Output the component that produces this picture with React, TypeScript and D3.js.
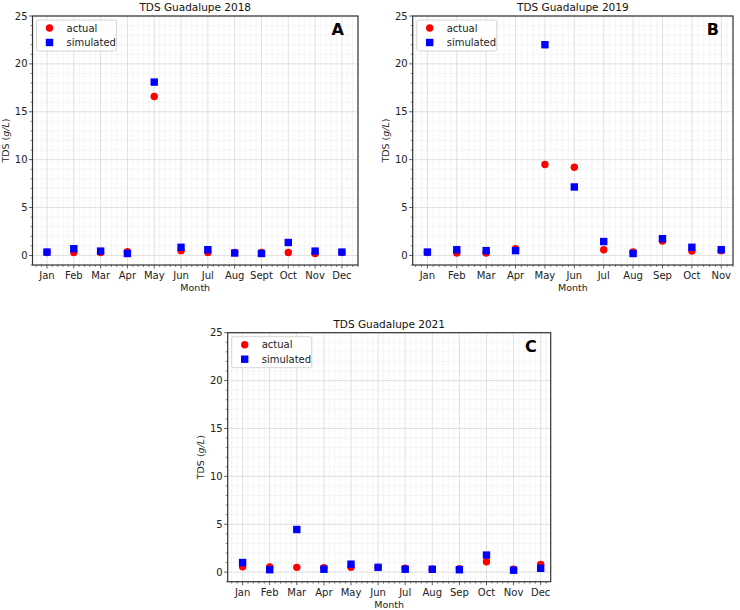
import React from 'react';
import * as d3 from 'd3';

// month labels for each panel
const months2018 = ['Jan', 'Feb', 'Mar', 'Apr', 'May', 'Jun', 'Jul', 'Aug', 'Sept', 'Oct', 'Nov', 'Dec'];
const months2019 = ['Jan', 'Feb', 'Mar', 'Apr', 'May', 'Jun', 'Jul', 'Aug', 'Sep', 'Oct', 'Nov'];
const months2021 = ['Jan', 'Feb', 'Mar', 'Apr', 'May', 'Jun', 'Jul', 'Aug', 'Sep', 'Oct', 'Nov', 'Dec'];

// TDS (g/L) values
const actual2018 = [0.3, 0.3, 0.3, 0.4, 16.6, 0.5, 0.3, 0.3, 0.3, 0.3, 0.2, 0.3];
const simulated2018 = [0.35, 0.7, 0.45, 0.2, 18.1, 0.85, 0.6, 0.25, 0.2, 1.35, 0.45, 0.35];

const actual2019 = [0.3, 0.25, 0.25, 0.7, 9.5, 9.2, 0.6, 0.35, 1.5, 0.45, 0.5];
const simulated2019 = [0.35, 0.6, 0.5, 0.5, 22.0, 7.15, 1.45, 0.2, 1.75, 0.85, 0.6];

const actual2021 = [0.55, 0.55, 0.5, 0.45, 0.5, 0.5, 0.4, 0.3, 0.35, 1.08, 0.3, 0.8];
const simulated2021 = [1.0, 0.25, 4.45, 0.3, 0.83, 0.5, 0.3, 0.3, 0.25, 1.78, 0.2, 0.4];

const yTicks = [0, 5, 10, 15, 20, 25];

const FONT = '"DejaVu Sans", sans-serif';

type PanelProps = {
  left: number;
  top: number;
  right: number;
  bottom: number;
  xDomain: [number, number];
  months: string[];
  actual: number[];
  simulated: number[];
  title: string;
  letter: string;
};

const Panel = ({ left, top, right, bottom, xDomain, months, actual, simulated, title, letter }: PanelProps) => {
  const x = d3.scaleLinear().domain(xDomain).range([left, right]);
  const y = d3.scaleLinear().domain([-1, 25]).range([bottom, top]);

  // minor ticks: 5 divisions per month, 1 unit on y
  const xMinor: number[] = [];
  for (let v = Math.ceil(xDomain[0] * 5) / 5; v <= xDomain[1]; v += 0.2) {
    const r = Math.round(v * 5) / 5;
    if (Math.abs(r - Math.round(r)) > 0.01) xMinor.push(r);
  }
  const yMinor = d3.range(-1, 26).filter(v => v % 5 !== 0);

  const lg = { x: left + 4, y: top + 4, w: 80, h: 31 };

  return (
    <g fontFamily={FONT}>
      {/* minor grid */}
      {xMinor.map((v, i) => (
        <line key={'xm' + i} x1={x(v)} x2={x(v)} y1={top} y2={bottom} stroke="#efefef" strokeWidth={0.6} />
      ))}
      {yMinor.map((v, i) => (
        <line key={'ym' + i} x1={left} x2={right} y1={y(v)} y2={y(v)} stroke="#efefef" strokeWidth={0.6} />
      ))}
      {/* major grid */}
      {months.map((m, i) => (
        <line key={'xg' + i} x1={x(i)} x2={x(i)} y1={top} y2={bottom} stroke="#dcdcdc" strokeWidth={0.9} />
      ))}
      {yTicks.map(v => (
        <line key={'yg' + v} x1={left} x2={right} y1={y(v)} y2={y(v)} stroke="#dcdcdc" strokeWidth={0.9} />
      ))}

      {/* actual (red circles) */}
      {actual.map((v, i) => (
        <circle key={'a' + i} cx={x(i)} cy={y(v)} r={3.7} fill="#ff0000" />
      ))}
      {/* simulated (blue squares) */}
      {simulated.map((v, i) => (
        <rect key={'s' + i} x={x(i) - 3.7} y={y(v) - 3.7} width={7.4} height={7.4} fill="#0000ff" />
      ))}

      {/* frame */}
      <rect x={left} y={top} width={right - left} height={bottom - top} fill="none" stroke="#333" strokeWidth={1.2} />

      {/* ticks */}
      {months.map((m, i) => (
        <g key={'xt' + i}>
          <line x1={x(i)} x2={x(i)} y1={bottom} y2={bottom + 3.5} stroke="#333" strokeWidth={0.8} />
          <text x={x(i)} y={bottom + 14} textAnchor="middle" fontSize={10} fill="#222">{m}</text>
        </g>
      ))}
      {xMinor.map((v, i) => (
        <line key={'xmt' + i} x1={x(v)} x2={x(v)} y1={bottom} y2={bottom + 2} stroke="#333" strokeWidth={0.6} />
      ))}
      {yTicks.map(v => (
        <g key={'yt' + v}>
          <line x1={left - 3.5} x2={left} y1={y(v)} y2={y(v)} stroke="#333" strokeWidth={0.8} />
          <text x={left - 5} y={y(v)} dy="0.35em" textAnchor="end" fontSize={10} fill="#222">{v}</text>
        </g>
      ))}
      {yMinor.map(v => (
        <line key={'ymt' + v} x1={left - 2} x2={left} y1={y(v)} y2={y(v)} stroke="#333" strokeWidth={0.6} />
      ))}

      {/* labels */}
      <text x={(left + right) / 2} y={top - 5} textAnchor="middle" fontSize={10.5} fill="#111">{title}</text>
      <text x={(left + right) / 2} y={bottom + 26} textAnchor="middle" fontSize={9.5} fill="#222">Month</text>
      <text
        transform={`translate(${left - 24}, ${(top + bottom) / 2}) rotate(-90)`}
        textAnchor="middle"
        fontSize={9.5}
        fill="#222"
      >
        TDS (<tspan fontStyle="italic">g/L</tspan>)
      </text>
      <text x={right - 14} y={top + 19} textAnchor="end" fontSize={16} fontWeight="bold" fill="#000">{letter}</text>

      {/* legend */}
      <rect x={lg.x} y={lg.y} width={lg.w} height={lg.h} rx={2} fill="#fff" fillOpacity={0.85} stroke="#cccccc" strokeWidth={0.8} />
      <circle cx={lg.x + 13} cy={lg.y + 8} r={3.7} fill="#ff0000" />
      <rect x={lg.x + 13 - 3.7} y={lg.y + 22.5 - 3.7} width={7.4} height={7.4} fill="#0000ff" />
      <text x={lg.x + 30} y={lg.y + 8} dy="0.35em" fontSize={10} fill="#222">actual</text>
      <text x={lg.x + 30} y={lg.y + 22.5} dy="0.35em" fontSize={10} fill="#222">simulated</text>
    </g>
  );
};

export default function App() {
  return (
    <svg
      width={740}
      height={610}
      style={{ position: 'absolute', left: 0, top: 0, background: '#fff' }}
    >
      <rect width={740} height={610} fill="#fff" />
      <Panel
        left={32.5} top={16} right={358} bottom={265}
        xDomain={[-0.54, 11.6]}
        months={months2018} actual={actual2018} simulated={simulated2018}
        title="TDS Guadalupe 2018" letter="A"
      />
      <Panel
        left={412.7} top={16} right={733} bottom={265}
        xDomain={[-0.5, 10.4]}
        months={months2019} actual={actual2019} simulated={simulated2019}
        title="TDS Guadalupe 2019" letter="B"
      />
      <Panel
        left={227.7} top={332.7} right={550.7} bottom={581.7}
        xDomain={[-0.55, 11.37]}
        months={months2021} actual={actual2021} simulated={simulated2021}
        title="TDS Guadalupe 2021" letter="C"
      />
    </svg>
  );
}
